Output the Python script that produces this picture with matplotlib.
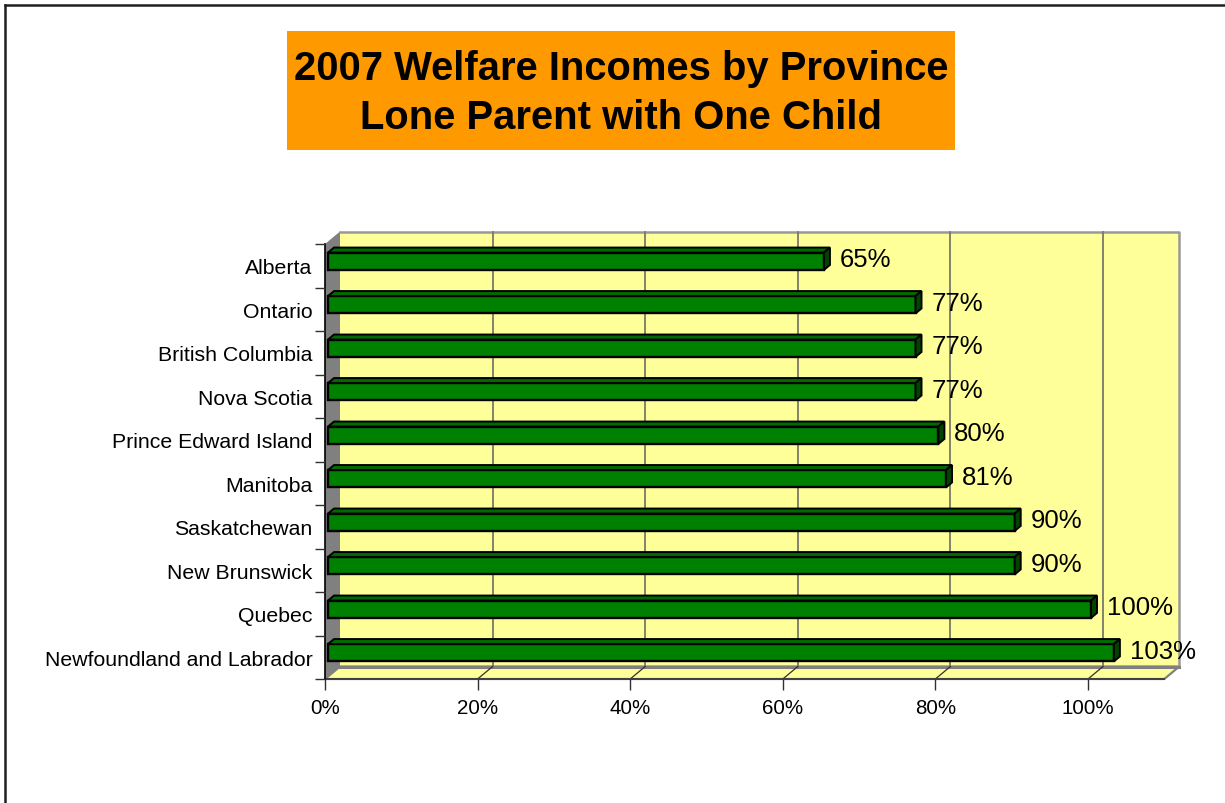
import matplotlib
matplotlib.use("Agg")
import matplotlib.pyplot as plt
from matplotlib.patches import Rectangle, Polygon
from matplotlib.lines import Line2D
from matplotlib.transforms import ScaledTranslation

plt.rcParams['font.family'] = ['Liberation Sans', 'DejaVu Sans']

provinces = ["Alberta", "Ontario", "British Columbia", "Nova Scotia",
             "Prince Edward Island", "Manitoba", "Saskatchewan",
             "New Brunswick", "Quebec", "Newfoundland and Labrador"]
values = [65, 77, 77, 77, 80, 81, 90, 90, 100, 103]
value_labels = ["65%", "77%", "77%", "77%", "80%", "81%", "90%", "90%", "100%", "103%"]
xticks = [0, 20, 40, 60, 80, 100]
xtick_labels = ["0%", "20%", "40%", "60%", "80%", "100%"]
title_lines = ["2007 Welfare Incomes by Province", "Lone Parent with One Child"]

W_PX, H_PX = 1225, 804
fig = plt.figure(figsize=(W_PX / 100, H_PX / 100), dpi=100)

# front plane of the 3-D plot area (pixels)
x_left, x_right = 325, 1164.3
y_top, y_bot = 245, 680
ax = fig.add_axes([x_left / W_PX, 1 - y_bot / H_PX,
                   (x_right - x_left) / W_PX, (y_bot - y_top) / H_PX])
XMAX = 110
n = len(provinces)
ax.set_xlim(0, XMAX)
ax.set_ylim(n - 0.5, -0.5)
for s in ax.spines.values():
    s.set_visible(False)
ax.patch.set_visible(False)

ppx = (x_right - x_left) / XMAX
ppy = (y_bot - y_top) / n
DX = 15 / ppx       # wall depth in data units
DY = 12.5 / ppy

wall = "#FFFF99"
gray = "#808080"
grid_c = "#7a7a6a"

# back wall
ax.add_patch(Polygon([(DX, -0.5 - DY), (XMAX + DX, -0.5 - DY),
                      (XMAX + DX, n - 0.5 - DY), (DX, n - 0.5 - DY)],
                     closed=True, facecolor=wall, edgecolor="none", clip_on=False, zorder=0))
# floor
ax.add_patch(Polygon([(0, n - 0.5), (XMAX, n - 0.5), (XMAX + DX, n - 0.5 - DY),
                      (DX, n - 0.5 - DY)],
                     closed=True, facecolor=wall, edgecolor=gray, lw=1.6, clip_on=False, zorder=0.5))
# left wall
ax.add_patch(Polygon([(0, -0.5), (DX, -0.5 - DY), (DX, n - 0.5 - DY), (0, n - 0.5)],
                     closed=True, facecolor=gray, edgecolor="none", clip_on=False, zorder=0.6))
# back wall outline (top & right)
ax.add_line(Line2D([DX, XMAX + DX, XMAX + DX], [-0.5 - DY, -0.5 - DY, n - 0.5 - DY],
                   color="#999999", lw=1.8, clip_on=False, zorder=0.7))
ax.add_line(Line2D([DX, XMAX + DX], [n - 0.5 - DY, n - 0.5 - DY],
                   color=gray, lw=2.2, clip_on=False, zorder=0.7))

# gridlines on back wall and floor
for t in xticks[1:]:
    ax.add_line(Line2D([t + DX, t + DX], [-0.5 - DY, n - 0.5 - DY],
                       color=grid_c, lw=1.3, clip_on=False, zorder=0.8))
    ax.add_line(Line2D([t + DX, t], [n - 0.5 - DY, n - 0.5],
                       color="#303030", lw=0.9, clip_on=False, zorder=0.8))

# front axis lines
ax.add_line(Line2D([0, XMAX], [n - 0.5, n - 0.5], color="#404040", lw=1.4,
                   clip_on=False, zorder=1))
ax.add_line(Line2D([0, 0], [-0.5, n - 0.5], color="black", lw=1.2,
                   clip_on=False, zorder=1))

# ticks
ax.set_xticks(xticks)
ax.set_xticklabels(xtick_labels, fontsize=14.8)
ax.tick_params(axis="x", length=8, width=1, color="#303030", pad=6)
ax.set_yticks(range(n))
ax.set_yticklabels(provinces, fontsize=15.3)
ax.tick_params(axis="y", which="major", length=0, pad=9)
ax.set_yticks([i - 0.5 for i in range(n + 1)], minor=True)
ax.tick_params(axis="y", which="minor", length=7, width=1, color="#303030")
for lbl in ax.get_yticklabels():
    lbl.set_y(lbl.get_position()[1])

# bars with 3-D faces
bar_tr = ax.transData + ScaledTranslation(3 / 100, 4.5 / 100, fig.dpi_scale_trans)
bh = 0.4
bdx = 6 / ppx
bdy = 5 / ppy
green = "#008000"
bars = ax.barh(range(n), values, height=bh, color=green, edgecolor="black",
               lw=1.7, transform=bar_tr, zorder=3)
for i, v in enumerate(values):
    top = i - bh / 2
    bot = i + bh / 2
    ax.add_patch(Polygon([(0, top), (bdx, top - bdy), (v + bdx, top - bdy), (v, top)],
                         closed=True, facecolor="#006a00", edgecolor="black", lw=1.4,
                         transform=bar_tr, clip_on=False, zorder=3))
    ax.add_patch(Polygon([(v, top), (v + bdx, top - bdy), (v + bdx, bot - bdy), (v, bot)],
                         closed=True, facecolor="#004400", edgecolor="black", lw=1.4,
                         transform=bar_tr, clip_on=False, zorder=3))
    ax.annotate(value_labels[i], xy=(v + bdx, i), xycoords=bar_tr,
                xytext=(7, 1.5), textcoords="offset points",
                ha="left", va="center", fontsize=18.5, zorder=4, annotation_clip=False)

# title box
fig.patches.append(Rectangle((287 / W_PX, 1 - 151 / H_PX), 668 / W_PX, 119 / H_PX,
                             transform=fig.transFigure, facecolor="#FF9900",
                             edgecolor="none", zorder=0))
fig.text(621 / W_PX, 1 - 80 / H_PX, title_lines[0], ha="center", va="baseline",
         fontsize=28.8, fontweight="bold")
fig.text(621 / W_PX, 1 - 129 / H_PX, title_lines[1], ha="center", va="baseline",
         fontsize=28.8, fontweight="bold")

# outer border (top & left)
fig.add_artist(Line2D([5 / W_PX, 1], [1 - 6 / H_PX, 1 - 6 / H_PX],
                      transform=fig.transFigure, color="#202020", lw=1.8))
fig.add_artist(Line2D([5 / W_PX, 5 / W_PX], [0, 1 - 6 / H_PX],
                      transform=fig.transFigure, color="#202020", lw=1.8))

fig.savefig("out.png", dpi=100, facecolor="white")
